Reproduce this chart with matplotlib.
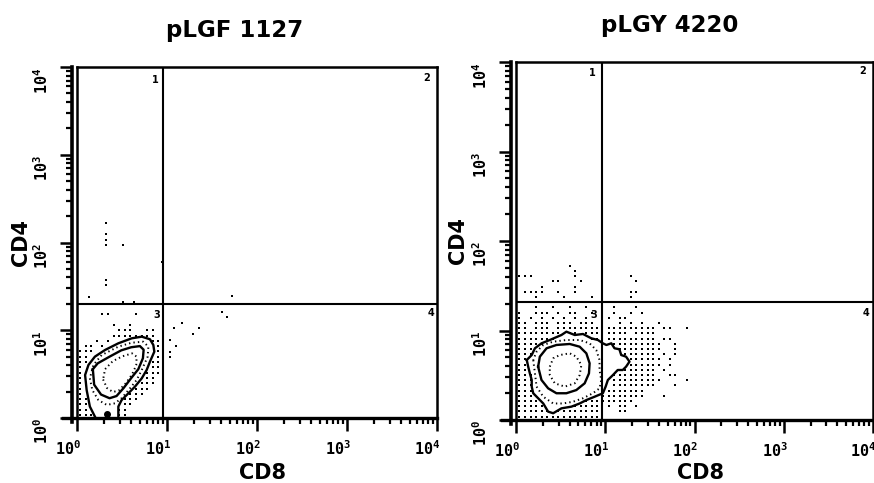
import numpy as np
import matplotlib
matplotlib.use("Agg")
import matplotlib.pyplot as plt
from matplotlib.transforms import ScaledTranslation

# ---------------- data ----------------
titles = ["pLGF 1127", "pLGY 4220"]
x_label = "CD8"
y_label = "CD4"
decades = [0, 1, 2, 3, 4]
quadrant_names = ["1", "2", "3", "4"]

# quadrant gates (CD8, CD4)
gate_left = (9.0, 20.0)
gate_right = (9.1, 21.0)

# ---- left panel contours (CD8, CD4) ----
left_outer_cd8 = [1.61, 1.39, 1.28, 1.23, 1.34, 1.58, 2.05, 2.88, 4.05, 5.24, 6.47,
                  7.05, 7.23, 6.47, 5.94, 5.24, 4.41, 3.72, 3.13, 2.88, 2.88]
left_outer_cd4 = [1.0, 1.35, 2.08, 3.09, 4.02, 5.0, 5.96, 7.10, 8.09, 8.45, 7.89,
                  6.79, 5.70, 4.39, 3.52, 2.83, 2.28, 1.91, 1.60, 1.35, 1.0]
left_mid_cd8 = [1.39, 1.48, 1.73, 2.14, 2.64, 3.13, 3.88, 4.60, 5.24, 6.10, 6.21,
                5.45, 4.05, 2.88, 1.88, 1.52, 1.39]
left_mid_cd4 = [2.83, 2.08, 1.60, 1.41, 1.47, 1.68, 2.18, 2.71, 3.52, 5.0, 6.50,
                7.41, 7.21, 6.50, 5.22, 4.02, 2.83]
left_inner_cd8 = [1.50, 1.55, 1.85, 2.30, 2.75, 3.30, 4.00, 4.80, 5.40, 5.50, 5.00,
                  4.00, 3.10, 2.30, 1.70, 1.50]
left_inner_cd4 = [3.60, 2.40, 1.85, 1.68, 1.78, 2.20, 2.85, 3.60, 4.80, 6.00, 6.60,
                  6.40, 5.90, 5.00, 4.20, 3.60]
left_core_cd8 = [1.95, 2.15, 2.50, 2.90, 3.50, 4.10, 4.55, 4.60, 4.10, 3.20, 2.50, 2.05, 1.95]
left_core_cd4 = [2.75, 2.20, 1.98, 2.05, 2.50, 3.15, 4.00, 5.00, 5.45, 5.05, 4.45, 3.60, 2.75]

# ---- right panel contours (CD8, CD4) ----
right_outer_cd8 = [1.32, 1.50, 1.63, 1.93, 2.39, 3.23, 3.67, 4.55, 5.63, 6.98, 8.28,
                   9.40, 10.3, 11.7, 12.7, 14.4, 15.1, 17.1, 18.7, 17.1, 15.7, 13.8,
                   12.2, 10.7, 10.1, 9.40, 7.60, 6.14, 5.17, 4.18, 3.23, 2.61, 2.29,
                   2.02, 1.77, 1.56, 1.50, 1.50, 1.43, 1.37, 1.32]
right_outer_cd4 = [4.68, 5.32, 6.33, 7.19, 7.83, 8.91, 9.70, 8.91, 9.14, 8.18, 7.83,
                   7.19, 6.89, 7.19, 6.33, 6.17, 5.32, 5.10, 4.49, 3.94, 3.62, 3.62,
                   3.18, 2.80, 2.36, 1.99, 1.82, 1.67, 1.53, 1.41, 1.35, 1.19, 1.24,
                   1.53, 1.75, 1.99, 2.36, 2.80, 3.32, 3.94, 4.68]
right_mid_cd8 = [1.56, 1.63, 1.70, 2.02, 2.61, 3.37, 4.35, 5.63, 7.28, 8.63, 9.02,
                 8.63, 8.63, 7.93, 6.68, 5.17, 3.67, 2.61, 2.02, 1.70, 1.56]
right_mid_cd4 = [4.68, 3.32, 2.36, 1.82, 1.53, 1.53, 1.60, 1.75, 1.99, 2.26, 2.80,
                 3.62, 4.68, 6.05, 7.19, 7.83, 7.83, 7.50, 6.89, 5.80, 4.68]
right_inner_cd8 = [1.77, 1.85, 2.20, 2.84, 4.00, 5.17, 6.14, 6.68, 6.57, 5.88, 4.74,
                   3.67, 2.84, 2.29, 1.93, 1.77]
right_inner_cd4 = [3.94, 5.10, 6.33, 6.89, 7.07, 6.59, 5.56, 4.30, 3.32, 2.57, 2.16,
                   1.99, 1.99, 2.26, 2.80, 3.94]
right_core_cd8 = [2.39, 2.61, 3.10, 4.00, 4.74, 5.40, 5.17, 4.55, 3.52, 2.72, 2.39, 2.39]
right_core_cd4 = [3.94, 4.89, 5.32, 5.56, 5.10, 4.12, 3.18, 2.57, 2.36, 2.57, 3.18, 3.94]

# ---- scattered single events, left panel (CD8, CD4) ----
left_events_cd8 = [2.08, 2.08, 2.08, 2.08, 3.22, 8.87, 2.08, 2.08, 1.36, 53.2, 3.24, 4.30,
                   40.5, 46.0, 14.6, 12.1, 22.7, 19.3, 12.5, 10.8, 10.8, 10.8]
left_events_cd4 = [168, 125, 108, 93, 93, 59.5, 37.4, 32.5, 23.9, 24.8, 21.0, 21.0,
                   16.3, 14.3, 12.2, 10.5, 10.5, 9.0, 6.67, 7.74, 5.70, 5.0]
left_big_event = (2.14, 1.11)

# ---- dot-plot cells (row -> columns) on the instrument's display grid ----
# grid: (log10 CD8 of col 0, decades per col, log10 CD4 of row 0, decades per row)
left_grid = (0.033, 0.0622, 0.034, 0.0604)
right_grid = (0.039, 0.0624, 0.037, 0.0581)

left_cells = {
    19: "4,5,10", 17: "6,9", 16: "7-9,12,13", 15: "6-13", 14: "3,5,13,14",
    13: "1,2,4,14", 12: "0-2,14", 11: "0,1,14", 10: "0,1,13,14", 9: "0,13,14",
    8: "0,12-14", 7: "0,12,13", 6: "0,11-13", 5: "0,10-12", 4: "0,9-11",
    3: "0,1,8-10", 2: "0,1,8,9", 1: "0,1,7,8", 0: "0-2,7,8",
}
right_cells = {
    29: "9", 28: "10", 27: "0-2,10,20", 26: "6,7,11,21", 25: "4,10",
    24: "1-4,7,10,20,21", 23: "3,8,13,20",
    21: "3,6,9,12,17,21", 20: "0,3-5,7,9,10,13,17,20,22",
    19: "0,2,4,6,8,10,12,16,18,19",
    18: "0,1,3-5,7-9,11-13,18,20,22,25",
    17: "0,1,3-5,7-14,16-24,26,27,30",
    16: "0-7,9,10,12-14,16-19,21-24",
    15: "0-6,13,14,16-24,26,27",
    14: "0-4,17-25,28", 13: "0-2,18-25,28", 12: "0-2,19-24,26,28",
    11: "0,1,20-25,27", 10: "0,1,20-25,27", 9: "0,1,19-24,26",
    8: "0-2,17-24,27,28", 7: "0-2,17-25,30", 6: "0-2,17-24,28",
    5: "0-2,16-22", 4: "0-2,15-22,26", 3: "0-3,12-20",
    2: "0-4,10-14,16,18,19,21", 1: "0-5,7-14,18,19", 0: "0-14",
}


def parse_cols(spec):
    out = []
    for part in spec.split(","):
        part = part.strip()
        if "-" in part:
            a, b = part.split("-")
            out.extend(range(int(a), int(b) + 1))
        elif part:
            out.append(int(part))
    return out


def cells_to_values(cells, grid):
    x0, dx, y0, dy = grid
    xs, ys = [], []
    for row, spec in cells.items():
        for col in parse_cols(spec):
            xs.append(10 ** (x0 + dx * col))
            ys.append(10 ** (y0 + dy * row))
    return np.array(xs), np.array(ys)


# ---------------- figure ----------------
W, H = 874, 483
fig = plt.figure(figsize=(W / 100, H / 100), dpi=100)
fig.patch.set_facecolor("white")

ax_l = fig.add_axes([77 / W, (H - 418) / H, 360 / W, 351 / H])
ax_r = fig.add_axes([516 / W, (H - 420) / H, 357 / W, 358 / H])

tick_font = dict(family="DejaVu Sans Mono", weight="bold", size=11)
label_font = dict(family="DejaVu Sans", weight="bold", size=15)


def style(ax):
    ax.set_xscale("log")
    ax.set_yscale("log")
    ax.set_xlim(1, 1e4)
    ax.set_ylim(1, 1e4)
    ax.set_facecolor("white")
    for s in ["top", "right"]:
        ax.spines[s].set_linewidth(1.8)
    ax.spines["left"].set_position(("outward", 3.6))
    ax.spines["left"].set_linewidth(2.6)
    ax.spines["left"].set_bounds(10 ** -0.05, 1e4)
    ax.spines["bottom"].set_linewidth(2.4)
    ax.spines["bottom"].set_bounds(10 ** -0.16, 1e4)
    ax.axvline(1, color="black", lw=1.8, clip_on=False, zorder=3)
    ax.set_xticks([10 ** d for d in decades])
    ax.set_yticks([10 ** d for d in decades])
    ax.xaxis.set_minor_locator(matplotlib.ticker.LogLocator(base=10, subs=range(2, 10)))
    ax.yaxis.set_minor_locator(matplotlib.ticker.LogLocator(base=10, subs=range(2, 10)))
    ax.xaxis.set_minor_formatter(matplotlib.ticker.NullFormatter())
    ax.yaxis.set_minor_formatter(matplotlib.ticker.NullFormatter())
    ax.set_xticklabels([])
    ax.set_yticklabels([])
    ax.tick_params(which="major", length=9, width=1.8, direction="out", color="black")
    ax.tick_params(which="minor", length=4.6, width=1.6, direction="out", color="black")
    # tick labels
    xt = ax.get_xaxis_transform()
    yt = ax.get_yaxis_transform()
    for d in decades:
        lab = r"$\mathregular{10^{%d}}$" % d
        ax.text(10 ** d, 0, lab, transform=xt + ScaledTranslation(0.04, -0.37, fig.dpi_scale_trans),
                ha="right", va="baseline", clip_on=False, **tick_font)
        ax.text(0, 10 ** d, lab, rotation=90,
                transform=yt + ScaledTranslation(-0.35, 0.0, fig.dpi_scale_trans),
                ha="center", va="top", clip_on=False, **tick_font)


def draw_panel(ax, gate, contours, ev_x, ev_y, cells, grid, qpos):
    style(ax)
    ax.axvline(gate[0], color="black", lw=1.5, zorder=2)
    ax.axhline(gate[1], color="black", lw=1.5, zorder=2)
    gx, gy = cells_to_values(cells, grid)
    ax.plot(gx, gy, ls="none", marker="s", ms=1.5, mew=0, color="black")
    if ev_x is not None:
        ax.plot(ev_x, ev_y, ls="none", marker="s", ms=1.6, mew=0, color="black")
    for (cx, cy, kind) in contours:
        if kind == "solid":
            ax.plot(cx, cy, color="black", lw=1.7, solid_joinstyle="round")
        else:
            ax.plot(cx, cy, color="black", lw=1.4, ls=(0, (0.7, 1.6)))
    for name, (fx, fy) in zip(quadrant_names, qpos):
        ax.text(fx, fy, name, transform=ax.transAxes, ha="center", va="center",
                family="DejaVu Sans", weight="bold", size=7)


draw_panel(ax_l, gate_left,
           [(left_outer_cd8, left_outer_cd4, "solid"),
            (left_mid_cd8, left_mid_cd4, "dot"),
            (left_inner_cd8, left_inner_cd4, "solid"),
            (left_core_cd8, left_core_cd4, "dot")],
           left_events_cd8, left_events_cd4, left_cells, left_grid,
           [(0.217, 0.963), (0.972, 0.97), (0.222, 0.293), (0.983, 0.30)])
ax_l.plot([left_big_event[0]], [left_big_event[1]], marker="o", ms=4, color="black", ls="none")

draw_panel(ax_r, gate_right,
           [(right_outer_cd8, right_outer_cd4, "solid"),
            (right_mid_cd8, right_mid_cd4, "dot"),
            (right_inner_cd8, right_inner_cd4, "solid"),
            (right_core_cd8, right_core_cd4, "dot")],
           None, None, right_cells, right_grid,
           [(0.213, 0.969), (0.972, 0.975), (0.218, 0.293), (0.98, 0.299)])

# titles and axis labels
fig.text(235 / W, 1 - 37 / H, titles[0], ha="center", va="baseline",
         family="DejaVu Sans", weight="bold", size=16.5)
fig.text(670 / W, 1 - 32 / H, titles[1], ha="center", va="baseline",
         family="DejaVu Sans", weight="bold", size=16.5)
fig.text(262 / W, 1 - 479 / H, x_label, ha="center", va="baseline", **label_font)
fig.text(701 / W, 1 - 479 / H, x_label, ha="center", va="baseline", **label_font)
fig.text(21 / W, 1 - 242 / H, y_label, ha="center", va="center", rotation=90, **label_font)
fig.text(458 / W, 1 - 240 / H, y_label, ha="center", va="center", rotation=90, **label_font)

fig.savefig("out.png", dpi=100, facecolor="white")
